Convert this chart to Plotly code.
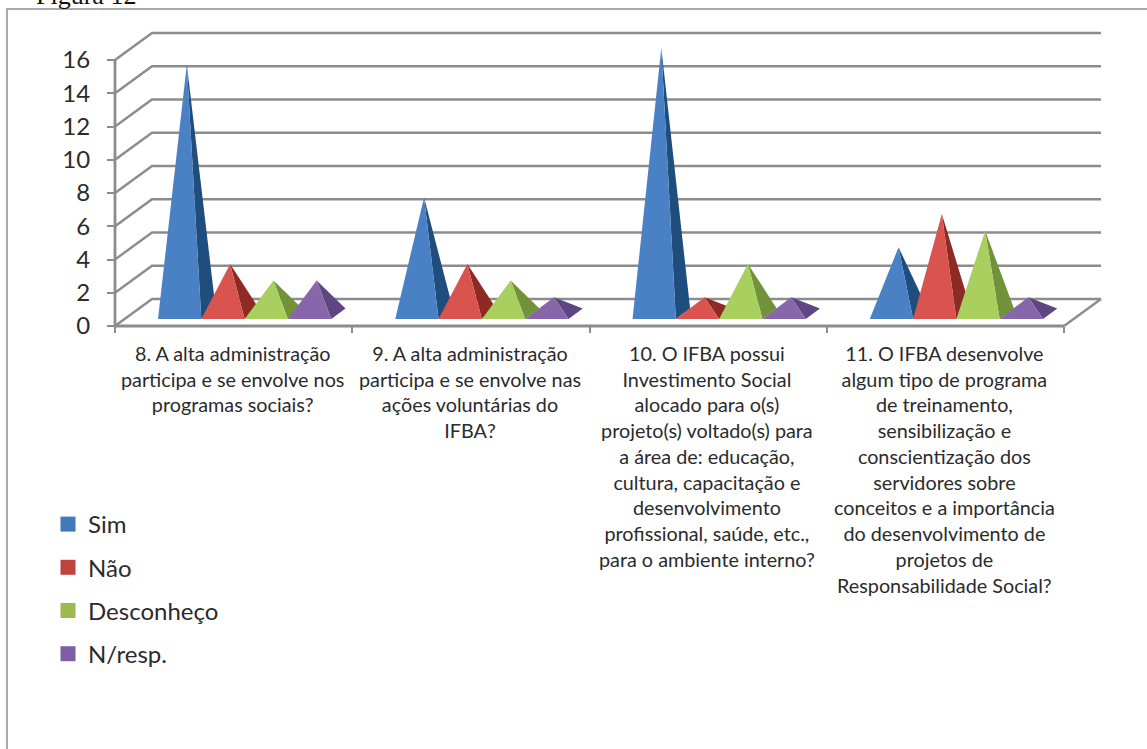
import plotly.graph_objects as go

# Survey answers per question
categories = [
    ["8. A alta administração", "participa e se envolve nos", "programas sociais?"],
    ["9. A alta administração", "participa e se envolve nas", "ações voluntárias do", "IFBA?"],
    ["10. O IFBA possui", "Investimento Social", "alocado para o(s)", "projeto(s) voltado(s) para",
     "a área de: educação,", "cultura, capacitação e", "desenvolvimento",
     "profissional, saúde, etc.,", "para o ambiente interno?"],
    ["11. O IFBA desenvolve", "algum tipo de programa", "de treinamento,", "sensibilização e",
     "conscientização dos", "servidores sobre", "conceitos e a importância",
     "do desenvolvimento de", "projetos de", "Responsabilidade Social?"],
]
sim = [15, 7, 16, 4]
nao = [3, 3, 1, 6]
desconheco = [2, 2, 3, 5]
n_resp = [2, 1, 1, 1]
y_ticks = [0, 2, 4, 6, 8, 10, 12, 14, 16]

series = [
    ("Sim", sim, "#4a81c4", "#1f4e7e", "#4279bd"),
    ("Não", nao, "#d9544f", "#8e2a24", "#c0423f"),
    ("Desconheço", desconheco, "#a9cf5f", "#72923a", "#9bbb4f"),
    ("N/resp.", n_resp, "#8866ab", "#5f4683", "#7f5fa4"),
]

# Page and chart box sizes; the subplot fills the page and the axes float inside it
W, H = 1147, 749
ORIGIN_X, ORIGIN_Y = 115, 326
PX_PER_CAT = 237.25
PX_PER_VAL = 16.625

# Oblique projection of the chart box, in axis units
DEPTH_X = 37 / PX_PER_CAT
DEPTH_Y = 27 / PX_PER_VAL
SLOT = 43.3 / PX_PER_CAT
PAD = 33.4 / PX_PER_CAT
D_FRONT, D_BACK = 0.26, 0.646
GRID = "#8c8c8c"
TEXT = "#2b2b2b"


def project(x, v, depth):
    return x + depth * DEPTH_X, v + depth * DEPTH_Y


def add_line(pts, width=2.4):
    xs, ys = zip(*pts)
    fig.add_trace(go.Scatter(x=xs, y=ys, mode="lines", line=dict(color=GRID, width=width),
                             showlegend=False, hoverinfo="skip"))


fig = go.Figure()

# Walls: one bent line per value, along the side wall then the back wall
for v in y_ticks:
    add_line([project(0, v, 0), project(0, v, 1), project(4, v, 1)])

# Right edge of the floor and the two front axis lines
add_line([project(4, 0, 0), project(4, 0, 1)])
add_line([(0, y_ticks[0]), (0, y_ticks[-1])], 2.8)
add_line([(0, 0), (4, 0)], 2.8)

# Pyramids, left to right so that each one overlaps its neighbour's shaded side
for cat in range(4):
    for j, (name, values, front, side, _) in enumerate(series):
        left = cat + PAD + j * SLOT
        right = left + SLOT
        v = values[cat]
        apex = project((left + right) / 2, v, (D_FRONT + D_BACK) / 2)
        fl = project(left, 0, D_FRONT)
        fr = project(right, 0, D_FRONT)
        br = project(right, 0, D_BACK)
        for pts, colour in (((fr, br, apex), side), ((fl, fr, apex), front)):
            xs, ys = zip(*pts, pts[0])
            fig.add_trace(go.Scatter(x=xs, y=ys, mode="lines", fill="toself", fillcolor=colour,
                                     line=dict(width=0), showlegend=False, name=name,
                                     hoverinfo="name"))

# Legend swatches
for name, _, _, _, swatch in series:
    fig.add_trace(go.Scatter(x=[None], y=[None], mode="markers", name=name, legendgroup=name,
                             marker=dict(symbol="square", size=15, color=swatch)))

# Category labels under the axis, centred on each group
annotations = [
    dict(x=cat + 0.5, y=-13 / PX_PER_VAL, xref="x", yref="y", text="<br>".join(lines),
         showarrow=False, xanchor="center", yanchor="top", align="center", xshift=-1,
         font=dict(family="Lato", size=19.8, color=TEXT))
    for cat, lines in enumerate(categories)
]
annotations.append(dict(x=35 / W, y=1 + 4 / H, xref="paper", yref="paper", text="Figura 12",
                        showarrow=False, xanchor="left", yanchor="middle", xshift=-1,
                        font=dict(family="Liberation Serif", size=26, color="#111111")))

fig.update_layout(
    width=W, height=H,
    margin=dict(l=0, r=0, t=0, b=0, autoexpand=False),
    paper_bgcolor="white", plot_bgcolor="rgba(0,0,0,0)",
    font=dict(family="Lato", color=TEXT),
    xaxis=dict(range=[-ORIGIN_X / PX_PER_CAT, (W - ORIGIN_X) / PX_PER_CAT], anchor="free",
               position=(H - ORIGIN_Y) / H, tickvals=[0, 1, 2, 3, 4], ticktext=[""] * 5,
               ticks="outside", ticklen=6, tickwidth=1.5, tickcolor=GRID, showgrid=False,
               zeroline=False, showline=False),
    yaxis=dict(range=[-(H - ORIGIN_Y) / PX_PER_VAL, ORIGIN_Y / PX_PER_VAL], anchor="free",
               position=ORIGIN_X / W, tickvals=y_ticks, ticks="outside", ticklen=8, tickwidth=1.5,
               tickcolor=GRID, showgrid=False, zeroline=False, showline=False,
               ticklabelstandoff=12, tickfont=dict(family="Lato", size=24, color=TEXT)),
    legend=dict(x=48 / W, y=1 - 502 / H, xanchor="left", yanchor="top", tracegroupgap=9,
                font=dict(family="Lato", size=24, color=TEXT), bgcolor="rgba(0,0,0,0)"),
    annotations=annotations,
    shapes=[dict(type="path", xref="paper", yref="paper", layer="below",
                 path=f"M {7 / W} 0 L {7 / W} {1 - 9 / H} L 1 {1 - 9 / H}",
                 line=dict(color="#a9a9ae", width=2))],
)

fig.write_html("out.html")
